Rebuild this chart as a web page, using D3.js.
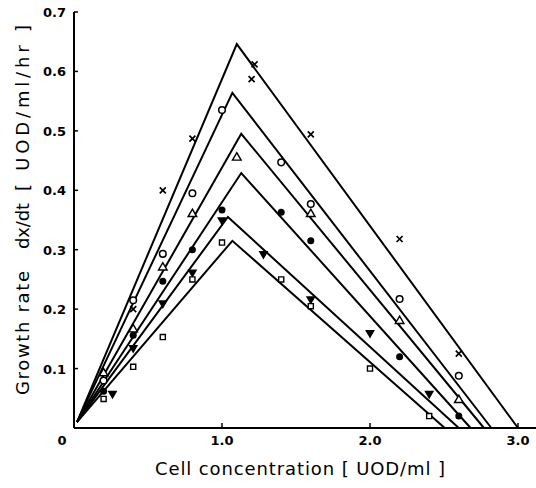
<!DOCTYPE html>
<html>
<head>
<meta charset="utf-8">
<script src="https://cdn.jsdelivr.net/npm/d3@7"></script>
<style>
  body { margin: 0; background: #fff; }
  text { font-family: "DejaVu Sans", sans-serif; fill: #000; }
</style>
</head>
<body>
<div id="chart"></div>
<script>
// axis ticks
var xTicks = [0, 1.0, 2.0, 3.0];
var xTickLabels = ["0", "1.0", "2.0", "3.0"];
var yTicks = [0.1, 0.2, 0.3, 0.4, 0.5, 0.6, 0.7];
var yTickLabels = ["0.1", "0.2", "0.3", "0.4", "0.5", "0.6", "0.7"];

// series, top line first
var seriesNames = ["cross", "circleOpen", "triUp", "circleFilled", "triDown", "square"];

// fitted lines: start, peak, end on x axis
var lineX = [
  [0.02, 1.10, 3.00],
  [0.02, 1.07, 2.82],
  [0.02, 1.13, 2.77],
  [0.02, 1.13, 2.68],
  [0.02, 1.04, 2.60],
  [0.02, 1.07, 2.505]
];
var lineY = [
  [0.01, 0.646, 0],
  [0.01, 0.564, 0],
  [0.01, 0.495, 0],
  [0.01, 0.429, 0],
  [0.01, 0.355, 0],
  [0.01, 0.315, 0]
];

// measured points
var pointX = [
  [0.4, 0.6, 0.8, 1.2, 1.22, 1.6, 2.2, 2.6],
  [0.2, 0.4, 0.6, 0.8, 1.0, 1.4, 1.6, 2.2, 2.6],
  [0.2, 0.4, 0.6, 0.8, 1.1, 1.6, 2.2, 2.6],
  [0.2, 0.4, 0.6, 0.8, 1.0, 1.4, 1.6, 2.2, 2.6],
  [0.26, 0.4, 0.6, 0.8, 1.0, 1.28, 1.6, 2.0, 2.4],
  [0.2, 0.4, 0.6, 0.8, 1.0, 1.4, 1.6, 2.0, 2.4]
];
var pointY = [
  [0.20, 0.40, 0.487, 0.587, 0.612, 0.494, 0.318, 0.125],
  [0.08, 0.215, 0.293, 0.395, 0.535, 0.447, 0.377, 0.217, 0.088],
  [0.092, 0.166, 0.27, 0.36, 0.455, 0.36, 0.18, 0.047],
  [0.062, 0.156, 0.247, 0.30, 0.367, 0.363, 0.315, 0.12, 0.02],
  [0.058, 0.135, 0.21, 0.262, 0.35, 0.293, 0.217, 0.16, 0.058],
  [0.049, 0.103, 0.153, 0.25, 0.312, 0.25, 0.205, 0.10, 0.02]
];

var W = 536, H = 488;
var margin = {top: 12, right: 18, bottom: 60, left: 74};

var x = d3.scaleLinear().domain([0, 3.0]).range([margin.left, margin.left + 444]);
var y = d3.scaleLinear().domain([0, 0.7]).range([428, 12]);

var svg = d3.select("#chart").append("svg")
  .attr("width", W)
  .attr("height", H);

// axes
svg.append("line")
  .attr("x1", x(0)).attr("x2", W)
  .attr("y1", y(0)).attr("y2", y(0))
  .attr("stroke", "#000").attr("stroke-width", 2);
svg.append("line")
  .attr("x1", x(0)).attr("x2", x(0))
  .attr("y1", y(0)).attr("y2", y(0.7))
  .attr("stroke", "#000").attr("stroke-width", 2);

// y ticks (inward) + labels
svg.selectAll(".ytick")
  .data(yTicks)
  .enter().append("line")
  .attr("x1", x(0)).attr("x2", x(0) + 4)
  .attr("y1", d => y(d)).attr("y2", d => y(d))
  .attr("stroke", "#000").attr("stroke-width", 1.5);

svg.selectAll(".ylab")
  .data(yTicks)
  .enter().append("text")
  .attr("x", x(0) - 8)
  .attr("y", d => y(d) + 5)
  .attr("text-anchor", "end")
  .attr("font-size", 13)
  .attr("font-weight", "bold")
  .text((d, i) => yTickLabels[i]);

// x ticks (inward) + labels
svg.selectAll(".xtick")
  .data(xTicks.slice(1))
  .enter().append("line")
  .attr("x1", d => x(d)).attr("x2", d => x(d))
  .attr("y1", y(0)).attr("y2", y(0) - 5)
  .attr("stroke", "#000").attr("stroke-width", 1.5);

svg.selectAll(".xlab")
  .data(xTicks)
  .enter().append("text")
  .attr("x", (d, i) => i === 0 ? x(d) - 12 : x(d))
  .attr("y", y(0) + 17)
  .attr("text-anchor", "middle")
  .attr("font-size", 13)
  .attr("font-weight", "bold")
  .text((d, i) => xTickLabels[i]);

// fitted lines
var line = d3.line().x(d => x(d[0])).y(d => y(d[1]));
lineX.forEach(function(xs, i) {
  svg.append("path")
    .attr("d", line(xs.map((v, j) => [v, lineY[i][j]])))
    .attr("fill", "none")
    .attr("stroke", "#000")
    .attr("stroke-width", 2)
    .attr("stroke-linejoin", "miter");
});

// markers
function drawMarker(g, kind) {
  if (kind === "cross") {
    g.append("path").attr("d", "M-3,-3L3,3M-3,3L3,-3")
      .attr("stroke", "#000").attr("stroke-width", 1.7);
  } else if (kind === "circleOpen") {
    g.append("circle").attr("r", 3.3).attr("fill", "#fff")
      .attr("stroke", "#000").attr("stroke-width", 1.5);
  } else if (kind === "circleFilled") {
    g.append("circle").attr("r", 3.5).attr("fill", "#000");
  } else if (kind === "triUp") {
    g.append("path").attr("d", d3.symbol().type(d3.symbolTriangle).size(32)())
      .attr("fill", "#fff").attr("stroke", "#000").attr("stroke-width", 1.4);
  } else if (kind === "triDown") {
    g.append("path").attr("d", d3.symbol().type(d3.symbolTriangle).size(42)())
      .attr("transform", "rotate(180)")
      .attr("fill", "#000");
  } else {
    g.append("path").attr("d", d3.symbol().type(d3.symbolSquare).size(26)())
      .attr("fill", "#fff").attr("stroke", "#000").attr("stroke-width", 1.4);
  }
}

pointX.forEach(function(xs, i) {
  xs.forEach(function(v, j) {
    var g = svg.append("g")
      .attr("transform", "translate(" + x(v) + "," + y(pointY[i][j]) + ")");
    drawMarker(g, seriesNames[i]);
  });
});

// axis titles
svg.append("text")
  .attr("x", 300)
  .attr("y", 475)
  .attr("text-anchor", "middle")
  .attr("font-size", 18)
  .attr("textLength", 290)
  .attr("lengthAdjust", "spacing")
  .text("Cell concentration [ UOD/ml ]");

var yTitle = svg.append("g").attr("transform", "translate(29,395) rotate(-90)");
yTitle.append("text").attr("x", 0).attr("y", 0)
  .attr("font-size", 18).attr("textLength", 124).attr("lengthAdjust", "spacing")
  .text("Growth rate");
yTitle.append("text").attr("x", 146).attr("y", 0)
  .attr("font-size", 18).attr("textLength", 46).attr("lengthAdjust", "spacing")
  .text("dx/dt");
yTitle.append("text").attr("x", 204).attr("y", 0)
  .attr("font-size", 18).attr("textLength", 166).attr("lengthAdjust", "spacing")
  .text("[ UOD/ml/hr ]");
</script>
</body>
</html>
